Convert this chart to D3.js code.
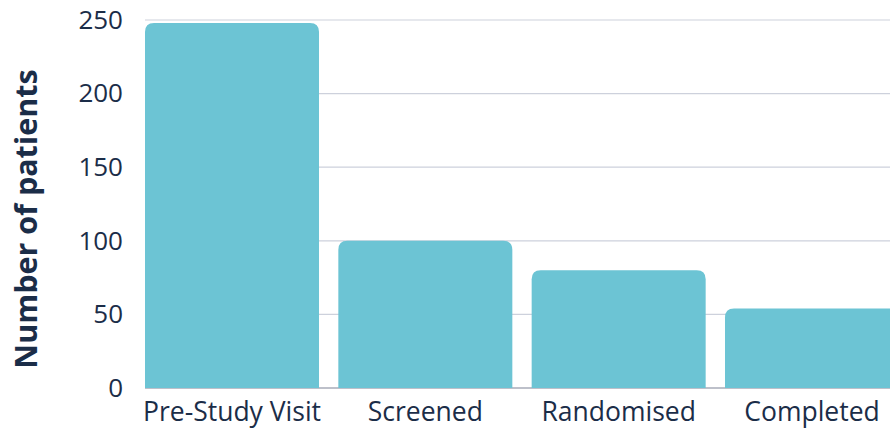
<!DOCTYPE html>
<html>
<head>
<meta charset="utf-8">
<script src="https://cdn.jsdelivr.net/npm/d3@7"></script>
<style>
  body { margin: 0; background: #fff; }
  svg { display: block; font-family: 'Open Sans', sans-serif; }
</style>
</head>
<body>
<svg></svg>
<script>
let categories = ['Pre-Study Visit', 'Screened', 'Randomised', 'Completed'];
let patients = [248, 100, 80, 54];
let yTicks = [0, 50, 100, 150, 200, 250];

let width = 890;
let height = 429;
let plotLeft = 145;
let plotTop = 20;
let plotBottom = 388;

let textColor = '#1b2d48';
let barColor = '#6cc4d4';

let svg = d3.select('svg')
    .attr('width', width)
    .attr('height', height);

let xScale = d3.scaleBand()
    .domain(categories)
    .range([plotLeft, plotLeft + 754])
    .paddingInner(0.1)
    .paddingOuter(0);

let yScale = d3.scaleLinear()
    .domain([0, 250])
    .range([plotBottom, plotTop]);

// gridlines
svg.append('g')
    .selectAll('line')
    .data(yTicks.filter(t => t > 0))
    .enter()
    .append('line')
    .attr('x1', plotLeft)
    .attr('x2', width)
    .attr('y1', d => yScale(d))
    .attr('y2', d => yScale(d))
    .attr('stroke', '#cdd1dc')
    .attr('stroke-width', 1.2);

// baseline
svg.append('line')
    .attr('x1', plotLeft)
    .attr('x2', width)
    .attr('y1', yScale(0))
    .attr('y2', yScale(0))
    .attr('stroke', '#7c8296')
    .attr('stroke-width', 1.2);

// bars with rounded tops
let r = 9;
let barPath = (cat, val) => {
    let x0 = xScale(cat);
    let x1 = x0 + xScale.bandwidth();
    let y0 = yScale(0);
    let y1 = yScale(val);
    return 'M' + x0 + ',' + y0 +
        'V' + (y1 + r) +
        'Q' + x0 + ',' + y1 + ' ' + (x0 + r) + ',' + y1 +
        'H' + (x1 - r) +
        'Q' + x1 + ',' + y1 + ' ' + x1 + ',' + (y1 + r) +
        'V' + y0 + 'Z';
};

svg.append('g')
    .selectAll('path')
    .data(categories)
    .enter()
    .append('path')
    .attr('d', (d, i) => barPath(d, patients[i]))
    .attr('fill', barColor);

// y axis labels
let yAxis = d3.axisLeft(yScale).tickValues(yTicks).tickSize(0).tickPadding(22);
let yg = svg.append('g')
    .attr('transform', 'translate(' + plotLeft + ',0)')
    .call(yAxis);
yg.select('.domain').remove();
yg.selectAll('text')
    .attr('fill', textColor)
    .style('font-size', '26px')
    .style('font-family', "'Open Sans', sans-serif");

// x axis labels
let xAxis = d3.axisBottom(xScale).tickSize(0).tickPadding(14.5);
let xg = svg.append('g')
    .attr('transform', 'translate(0,' + plotBottom + ')')
    .call(xAxis);
xg.select('.domain').remove();
xg.selectAll('text')
    .attr('fill', textColor)
    .style('font-size', '26.5px')
    .style('font-family', "'Open Sans', sans-serif");

// y title
svg.append('text')
    .attr('transform', 'translate(25,' + 219 + ') rotate(-90)')
    .attr('text-anchor', 'middle')
    .attr('dominant-baseline', 'central')
    .attr('fill', textColor)
    .style('font-size', '30.5px')
    .style('font-weight', 'bold')
    .text('Number of patients');
</script>
</body>
</html>
